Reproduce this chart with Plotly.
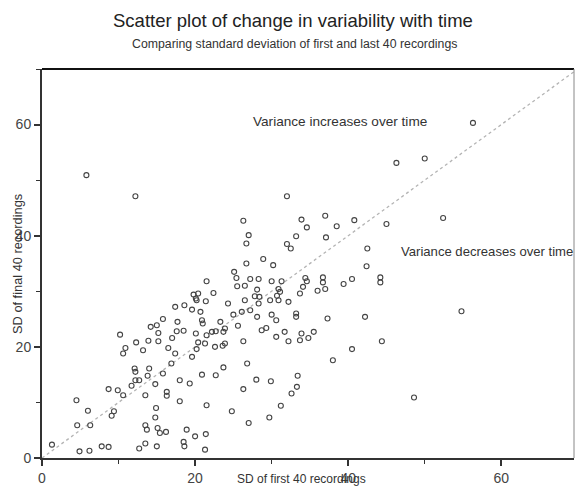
import plotly.graph_objects as go

# SD of the first 40 recordings (x) and of the final 40 recordings (y)
sd_first = [
    1.3, 4.9, 6.2, 7.8, 8.7, 4.6, 6.3, 6.0, 4.5, 8.7, 9.9, 10.6, 9.1, 9.4,
    11.7, 12.2, 12.7, 12.1, 12.2, 14.0, 13.8, 14.8, 13.5, 15.8, 16.3, 16.3,
    18.0, 18.0, 19.3, 14.9, 14.8, 13.5, 13.7, 15.1, 15.4, 16.2, 18.9, 20.0,
    18.5, 18.6, 15.0, 13.5, 12.7, 10.2, 10.6, 10.9, 12.3, 13.2, 13.9, 15.2,
    15.2, 14.2, 15.0, 15.8, 16.5, 17.4, 16.9, 17.0, 17.6, 18.5, 17.7, 17.4,
    18.6, 19.6, 20.2, 20.1, 20.2, 19.6, 21.3, 21.4, 21.5, 24.8, 27.0, 29.7,
    31.2, 32.6, 33.3, 33.4, 26.3, 28.0, 29.9, 26.8, 23.7, 22.7, 20.9, 26.3,
    23.6, 23.9, 22.6, 21.3, 20.4, 21.5, 22.2, 22.7, 23.7, 23.9, 23.3, 20.9,
    21.0, 20.7, 21.4, 24.3, 25.0, 26.1, 25.6, 27.2, 26.5, 28.3, 28.1, 28.7,
    29.3, 30.0, 30.6, 29.8, 30.9, 32.2, 30.6, 31.7, 32.2, 33.2, 33.2, 33.7,
    33.9, 34.8, 35.5, 37.3, 38.0, 21.5, 19.8, 20.4, 22.4, 25.1, 25.4, 25.5,
    26.5, 27.2, 28.3, 28.1, 28.4, 30.0, 31.3, 31.1, 33.7, 34.4, 34.6, 36.0,
    36.7, 36.7, 34.1, 39.4, 40.5, 42.2, 40.5, 44.4, 48.6, 54.8, 44.2, 44.2,
    56.3, 46.3, 50.0, 45.0, 52.4, 32.0, 33.9, 34.6, 37.0, 38.5, 40.8, 33.2,
    32.0, 32.5, 37.1, 42.5, 42.4, 30.2, 37.0, 30.9, 30.7, 12.2, 26.3, 27.0,
    26.7, 26.7, 28.9, 20.1, 27.8, 5.8,
]
sd_final = [
    2.4, 1.2, 1.3, 2.1, 2.0, 5.9, 5.9, 8.5, 10.4, 12.4, 12.2, 11.3, 7.6, 8.4,
    13.0, 14.0, 14.0, 16.1, 15.5, 16.1, 14.8, 13.3, 11.3, 15.2, 11.9, 11.2,
    14.0, 10.2, 13.4, 9.0, 7.3, 5.9, 5.1, 5.4, 4.5, 4.7, 5.1, 3.9,
    2.9, 2.1, 2.1, 2.6, 1.7, 22.2, 18.8, 19.8, 20.8, 19.4, 21.1, 22.5,
    21.0, 23.6, 23.9, 25.0, 19.8, 18.8, 17.0, 21.6, 22.8, 22.9, 24.5, 27.2,
    27.5, 26.7, 28.4, 22.4, 19.6, 18.2, 1.5, 4.3, 9.5, 8.4, 6.3, 7.3,
    9.4, 11.6, 12.8, 14.8, 12.4, 14.1, 13.8, 17.0, 16.3, 14.9, 15.0, 21.0,
    20.2, 20.6, 20.0, 20.6, 20.8, 22.1, 22.7, 22.8, 22.7, 23.3, 24.5, 24.8,
    24.2, 26.3, 28.2, 27.8, 25.8, 26.3, 23.8, 26.6, 28.4, 27.8, 25.4, 23.0,
    23.4, 25.8, 24.8, 28.4, 28.4, 28.1, 21.8, 22.7, 21.0, 25.4, 26.0, 21.2,
    22.4, 21.6, 22.7, 25.1, 17.6, 31.8, 29.4, 29.6, 29.7, 33.5, 32.4, 30.9,
    31.0, 32.2, 32.2, 30.3, 29.0, 31.8, 31.8, 29.9, 29.6, 32.4, 31.8, 30.1,
    32.5, 31.6, 30.8, 31.3, 32.2, 25.4, 19.6, 21.0, 10.9, 26.4, 32.5, 31.6,
    60.3, 53.1, 53.9, 42.1, 43.2, 47.1, 42.9, 41.5, 43.6, 41.7, 42.8, 39.9,
    38.5, 37.7, 39.7, 37.7, 34.5, 34.7, 30.4, 30.4, 29.2, 47.1, 42.7, 40.1,
    38.6, 35.0, 35.8, 28.7, 29.1, 50.9,
]

# line of no change (equal SD before and after)
ref_x = [0, 70]
ref_y = [0, 70]

x_ticks = [0, 20, 40, 60]
y_ticks = [0, 20, 40, 60]

FONT = "Liberation Sans, Arial, sans-serif"

fig = go.Figure()

fig.add_trace(go.Scatter(
    x=ref_x, y=ref_y, mode="lines",
    line=dict(color="#b4b4b4", width=1.3, dash="dot"),
    hoverinfo="skip", showlegend=False,
))

fig.add_trace(go.Scatter(
    x=sd_first, y=sd_final, mode="markers",
    marker=dict(symbol="circle-open", size=5, color="#444444",
                line=dict(width=1.1, color="#444444")),
    showlegend=False,
))

axis_common = dict(
    showgrid=False, zeroline=False, showline=True,
    linecolor="#333333", linewidth=2,
    ticks="outside", ticklen=6, tickwidth=1.5, tickcolor="#333333",
    tickfont=dict(family=FONT, size=14, color="#444444"),
    minor=dict(dtick=10, ticks="outside", ticklen=4, tickwidth=1.2,
               tickcolor="#333333"),
)

fig.update_xaxes(range=[0, 69.5], tickvals=x_ticks, **axis_common)
fig.update_yaxes(range=[0, 70], tickvals=y_ticks, **axis_common)

annotations = [
    # title and subtitle
    dict(text="Scatter plot of change in variability with time",
         xref="paper", yref="paper", x=0.472, y=1.124,
         xanchor="center", yanchor="middle", showarrow=False,
         font=dict(family=FONT, size=18.5, color="#222222")),
    dict(text="Comparing standard deviation of first and last 40 recordings",
         xref="paper", yref="paper", x=0.475, y=1.064,
         xanchor="center", yanchor="middle", showarrow=False,
         font=dict(family=FONT, size=12.3, color="#333333")),
    # axis titles
    dict(text="SD of first 40 recordings",
         xref="paper", yref="paper", x=0.487, y=-0.054,
         xanchor="center", yanchor="middle", showarrow=False,
         font=dict(family=FONT, size=12, color="#333333")),
    dict(text="SD of final 40 recordings", textangle=-90,
         xref="paper", yref="paper", x=-0.045, y=0.499,
         xanchor="center", yanchor="middle", showarrow=False,
         font=dict(family=FONT, size=12.8, color="#333333")),
    # region labels
    dict(text="Variance increases over time",
         x=38.9, y=60.6, xanchor="center", yanchor="middle", showarrow=False,
         font=dict(family=FONT, size=13.6, color="#333333")),
    dict(text="Variance decreases over time",
         x=46.6, y=37.1, xanchor="left", yanchor="middle", showarrow=False,
         font=dict(family=FONT, size=13.1, color="#333333")),
]

fig.update_layout(
    width=578, height=490,
    margin=dict(l=42, r=4, t=69, b=30),
    paper_bgcolor="white", plot_bgcolor="white",
    annotations=annotations,
    shapes=[
        dict(type="line", xref="paper", yref="paper", x0=0, x1=1, y0=1, y1=1,
             line=dict(color="#111111", width=2)),
        dict(type="line", xref="paper", yref="paper", x0=1, x1=1, y0=0, y1=1,
             line=dict(color="#888888", width=1)),
    ],
)

fig.write_html("out.html")
